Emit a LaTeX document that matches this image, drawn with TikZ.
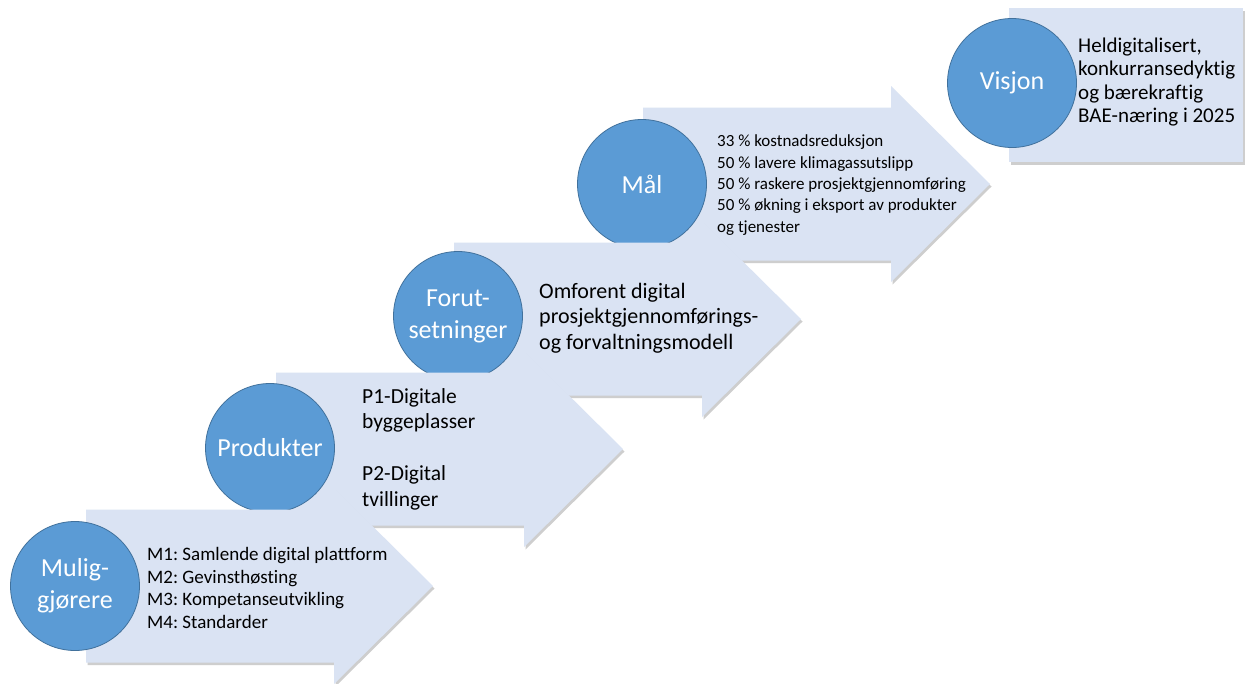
\documentclass[tikz,border=0pt]{standalone}
\usepackage{fontspec}
\setmainfont[Ligatures=NoCommon]{Carlito}
\usetikzlibrary{shadows}
\definecolor{arrowblue}{RGB}{218,227,243}
\definecolor{circblue}{RGB}{91,155,213}
\definecolor{circline}{RGB}{65,113,156}
\tikzset{
  arrowfill/.style={fill=arrowblue, drop shadow={shadow xshift=1.5pt,shadow yshift=-2.5pt,opacity=.35,fill=black!55}},
  stagecircle/.style={circle, fill=circblue, draw=circline, line width=0.8pt, minimum size=129pt, inner sep=0pt, text=white, align=center, font=\fontsize{26}{32}\selectfont},
  stagetext/.style={anchor=west, inner sep=0pt, align=left, text=black}
}
\newcommand{\stagearrow}[2]{%
  \fill[arrowfill] (#1,#2-76.5) -- ++(248,0) -- ++(0,-21.5) -- ++(99,98) -- ++(-99,98) -- ++(0,-21.5) -- ++(-248,0) -- cycle;}
\frenchspacing
\begin{document}
\begin{tikzpicture}[x=1pt,y=-1pt]
\useasboundingbox (0,0) rectangle (1245,683);
\fill[white] (0,0) rectangle (1245,683);
\clip (0,0) rectangle (1245,683);
% Stage 5: Visjon
\fill[arrowfill] (1009,8) rectangle (1243,162);
\node[stagecircle] (c5) at (1012,83) {Visjon};
\node[stagetext, font=\fontsize{21}{23.5}\selectfont] (t5) at (1078,82) {Heldigitalisert,\\konkurransedyktig\\og bærekraftig\\BAE-næring i 2025};
% Stage 4: Mål
\stagearrow{643}{184}
\node[stagecircle] (c4) at (642,184) {Mål};
\node[stagetext, font=\fontsize{17}{21.3}\selectfont] (t4) at (717,185) {33 \% kostnadsreduksjon\\50 \% lavere klimagassutslipp\\50 \% raskere prosjektgjennomføring\\50 \% økning i eksport av produkter\\og tjenester};
% Stage 3: Forutsetninger
\stagearrow{454}{319}
\node[stagecircle] (c3) at (458,316) {Forut-\\setninger};
\node[stagetext, font=\fontsize{22}{25.5}\selectfont] (t3) at (539,318) {Omforent digital\\prosjektgjennomførings-\\og forvaltningsmodell};
% Stage 2: Produkter
\stagearrow{276}{449}
\node[stagecircle] (c2) at (270,448) {Produkter};
\node[stagetext, font=\fontsize{21.5}{25.75}\selectfont] (t2) at (362,449) {P1-Digitale\\byggeplasser\\[25.75pt]P2-Digital\\tvillinger};
% Stage 1: Muliggjørere
\stagearrow{86}{586}
\node[stagecircle] (c1) at (75,586) {Mulig-\\gjørere};
\node[stagetext, font=\fontsize{19}{22.7}\selectfont] (t1) at (147,588) {M1: Samlende digital plattform\\M2: Gevinsthøsting\\M3: Kompetanseutvikling\\M4: Standarder};
\end{tikzpicture}
\end{document}
